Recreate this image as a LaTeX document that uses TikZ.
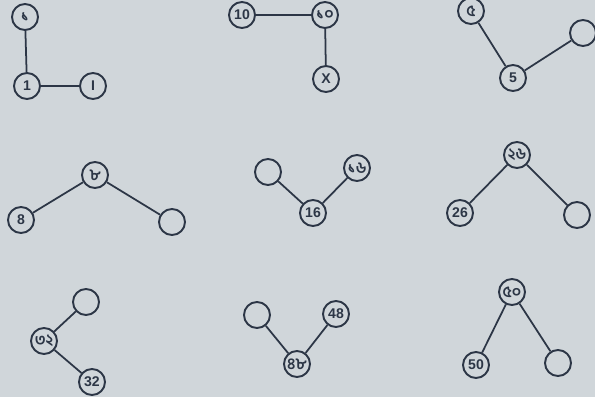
\documentclass[tikz,border=0pt]{standalone}
\usepackage{fontspec}
\setmainfont{Liberation Sans}
\newfontfamily\bnfont[Script=Bengali]{Hind Siliguri}
\usetikzlibrary{positioning}
\definecolor{paper}{RGB}{208,214,218}
\definecolor{ink}{RGB}{44,54,70}

\begin{document}
\begin{tikzpicture}[
    font=\footnotesize\bfseries,
    num/.style={circle, draw=ink, line width=1.1pt, minimum size=5.2mm, inner sep=0pt, text=ink},
    bn/.style={num, font=\small\bnfont\bfseries},
    link/.style={draw=ink, line width=1pt},
  ]
    \fill[paper] (0,0) rectangle (11.9,7.94);
    \useasboundingbox (0,0) rectangle (11.9,7.94);
    \clip (0,0) rectangle (11.9,7.94);

    % one
    \node[bn]  (b1)  at (0.50,7.60) {১};
    \node[num] (e1)  at (0.54,6.22) {1};
    \node[num] (r1)  at (1.86,6.22) {I};
    % ten
    \node[num] (e10) at (4.84,7.64) {10};
    \node[bn]  (b10) at (6.50,7.64) {১০};
    \node[num] (r10) at (6.52,6.36) {X};
    % five
    \node[bn]  (b5)  at (9.42,7.72) {৫};
    \node[num] (e5)  at (10.26,6.38) {5};
    \node[num] (r5)  at (11.66,7.28) {};
    % eight
    \node[bn]  (b8)  at (1.90,4.44) {৮};
    \node[num] (e8)  at (0.42,3.54) {8};
    \node[num] (r8)  at (3.44,3.50) {};
    % sixteen
    \node[num] (r16) at (5.36,4.50) {};
    \node[bn]  (b16) at (7.14,4.58) {১৬};
    \node[num] (e16) at (6.26,3.68) {16};
    % twenty-six
    \node[bn]  (b26) at (10.34,4.84) {২৬};
    \node[num] (e26) at (9.20,3.68) {26};
    \node[num] (r26) at (11.54,3.64) {};
    % thirty-two
    \node[num] (r32) at (1.72,1.90) {};
    \node[bn]  (b32) at (0.88,1.12) {৩২};
    \node[num] (e32) at (1.84,0.30) {32};
    % forty-eight
    \node[num] (r48) at (5.14,1.64) {};
    \node[num] (e48) at (6.72,1.66) {48};
    \node[bn]  (b48) at (5.94,0.66) {৪৮};
    % fifty
    \node[bn]  (b50) at (10.24,2.10) {৫০};
    \node[num] (e50) at (9.52,0.64) {50};
    \node[num] (r50) at (11.16,0.68) {};

    \foreach \a/\b in {b1/e1, e1/r1, e10/b10, b10/r10, b5/e5, e5/r5,
                       b8/e8, b8/r8, r16/e16, e16/b16, b26/e26, b26/r26,
                       r32/b32, b32/e32, r48/b48, b48/e48, b50/e50, b50/r50}
      \draw[link] (\a) -- (\b);
  \end{tikzpicture}
\end{document}
